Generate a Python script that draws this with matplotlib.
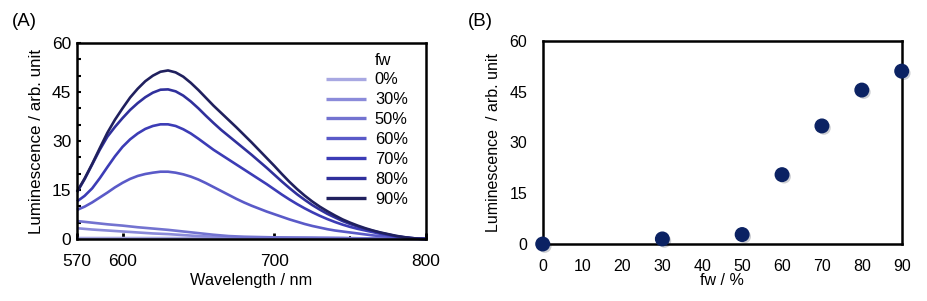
import matplotlib
matplotlib.use("Agg")
import matplotlib.pyplot as plt
from matplotlib.ticker import MultipleLocator, FixedLocator
from matplotlib import patheffects as pe

plt.rcParams['font.family'] = ['Liberation Sans', 'DejaVu Sans']

# ---- data ----
wavelength = [570, 575, 580, 585, 590, 595, 600, 605, 610, 615, 620, 625,
              630, 635, 640, 645, 650, 655, 660, 665, 670, 675, 680, 685,
              690, 695, 700, 705, 710, 715, 720, 725, 730, 735, 740, 745,
              750, 755, 760, 765, 770, 775, 780, 785, 790, 795, 800]
fw_labels = ['0%', '30%', '50%', '60%', '70%', '80%', '90%']
spec_0 = [0.3, 0.3, 0.3, 0.3, 0.3, 0.3, 0.3, 0.3, 0.3, 0.3, 0.3, 0.3,
          0.3, 0.3, 0.3, 0.3, 0.3, 0.3, 0.3, 0.3, 0.3, 0.3, 0.3, 0.3,
          0.3, 0.3, 0.3, 0.3, 0.3, 0.3, 0.3, 0.3, 0.3, 0.3, 0.25, 0.25,
          0.2, 0.2, 0.2, 0.15, 0.15, 0.1, 0.1, 0.05, 0.05, 0.0, 0.0]
spec_30 = [3.3, 3.1, 2.9, 2.75, 2.6, 2.45, 2.3, 2.15, 2.0, 1.85, 1.7, 1.6,
           1.5, 1.35, 1.2, 1.05, 0.9, 0.8, 0.7, 0.6, 0.5, 0.48, 0.45, 0.42,
           0.4, 0.4, 0.4, 0.38, 0.35, 0.35, 0.35, 0.32, 0.3, 0.3, 0.3, 0.28,
           0.25, 0.22, 0.2, 0.18, 0.15, 0.12, 0.1, 0.08, 0.05, 0.02, 0.0]
spec_50 = [5.5, 5.25, 5.0, 4.75, 4.5, 4.3, 4.1, 3.85, 3.6, 3.4, 3.2, 3.0,
           2.8, 2.55, 2.3, 2.05, 1.8, 1.55, 1.3, 1.1, 0.9, 0.8, 0.7, 0.65,
           0.6, 0.55, 0.5, 0.48, 0.45, 0.42, 0.4, 0.38, 0.35, 0.32, 0.3, 0.28,
           0.25, 0.22, 0.2, 0.18, 0.15, 0.12, 0.1, 0.08, 0.05, 0.02, 0.0]
spec_60 = [8.9, 9.9, 11.2, 12.7, 14.2, 15.8, 17.2, 18.4, 19.3, 19.9, 20.3, 20.6,
           20.6, 20.3, 19.8, 19.1, 18.2, 17.1, 15.9, 14.7, 13.5, 12.3, 11.2, 10.2,
           9.3, 8.4, 7.6, 6.8, 6.0, 5.3, 4.6, 4.0, 3.5, 3.0, 2.6, 2.3,
           2.0, 1.7, 1.4, 1.1, 0.9, 0.7, 0.5, 0.3, 0.2, 0.1, 0.0]
spec_70 = [11.5, 13.2, 15.5, 18.6, 22.0, 25.3, 28.2, 30.5, 32.3, 33.7, 34.6, 35.1,
           35.1, 34.6, 33.6, 32.3, 30.7, 29.0, 27.3, 25.8, 24.3, 22.8, 21.3, 19.8,
           18.3, 16.8, 15.2, 13.6, 12.1, 10.7, 9.4, 8.2, 7.1, 6.1, 5.2, 4.4,
           3.7, 3.1, 2.6, 2.1, 1.6, 1.2, 0.8, 0.5, 0.3, 0.1, 0.0]
spec_80 = [14.3, 18.3, 22.8, 27.3, 31.3, 34.3, 37.0, 39.5, 41.6, 43.4, 44.8, 45.7,
           45.8, 45.2, 43.9, 42.1, 40.0, 37.7, 35.5, 33.4, 31.5, 29.6, 27.7, 25.8,
           23.8, 21.8, 19.7, 17.6, 15.6, 13.7, 12.0, 10.4, 9.0, 7.7, 6.6, 5.5,
           4.6, 3.8, 3.1, 2.5, 1.9, 1.4, 0.9, 0.6, 0.3, 0.1, 0.0]
spec_90 = [14.5, 18.5, 23.0, 27.8, 32.5, 36.5, 40.0, 43.3, 46.0, 48.3, 50.0, 51.2,
           51.6, 51.0, 49.7, 47.8, 45.6, 43.2, 40.8, 38.6, 36.4, 34.2, 31.9, 29.6,
           27.2, 24.8, 22.4, 19.9, 17.5, 15.3, 13.3, 11.5, 9.9, 8.5, 7.2, 6.0,
           5.0, 4.1, 3.3, 2.6, 2.0, 1.5, 1.0, 0.6, 0.3, 0.1, 0.0]
spectra = [spec_0, spec_30, spec_50, spec_60, spec_70, spec_80, spec_90]
colors = ['#a8a8e2', '#8b8bda', '#7373d0', '#5a5ac8', '#3c3cb6', '#30309c', '#20205e']

fw_values = [0, 30, 50, 60, 70, 80, 90]
intensity = [0.0, 1.5, 2.8, 20.5, 34.9, 45.5, 51.1]

xticks_a = [570, 600, 700, 800]
yticks = [0, 15, 30, 45, 60]
xticks_b = [0, 10, 20, 30, 40, 50, 60, 70, 80, 90]

W, H = 927, 301
fig = plt.figure(figsize=(W / 100, H / 100), dpi=100)

# ---- panel A ----
axA = fig.add_axes([77 / W, 1 - 239 / H, 349 / W, 196 / H])
for spec, c, lab in zip(spectra, colors, fw_labels):
    axA.plot(wavelength, spec, color=c, lw=1.9, label=lab, clip_on=False,
             solid_capstyle='butt', solid_joinstyle='round')
axA.set_xlim(570, 800)
axA.set_ylim(0, 60)
axA.set_xticks(xticks_a)
axA.xaxis.set_minor_locator(FixedLocator([650, 750]))
axA.set_yticks(yticks)
axA.yaxis.set_minor_locator(MultipleLocator(5))
axA.tick_params(axis='both', which='both', direction='in', top=False, right=False)
axA.tick_params(axis='x', which='major', length=4, width=2, labelsize=12.5, pad=11)
axA.tick_params(axis='x', which='minor', length=2, width=1.2)
axA.tick_params(axis='y', which='major', length=3, width=1.5, labelsize=12.5, pad=4)
axA.tick_params(axis='y', which='minor', length=3, width=1.5)
for s in axA.spines.values():
    s.set_linewidth(1.8)
axA.set_xlabel('Wavelength / nm', fontsize=11.8, labelpad=3)
axA.set_ylabel('Luminescence / arb. unit', fontsize=12.2, labelpad=6)
leg = axA.legend(loc='upper left', bbox_to_anchor=(0.713, 0.85), frameon=False,
                 fontsize=11.8, handlelength=2.44, handletextpad=0.55,
                 labelspacing=0.3, borderpad=0, borderaxespad=0)
for l in leg.get_lines():
    l.set_linewidth(2.4)
axA.text(0.854, 0.91, 'fw', transform=axA.transAxes, fontsize=11.8,
         ha='left', va='center')
fig.text(12 / W, 1 - 22 / H, '(A)', fontsize=13.5, ha='left', va='center')

# ---- panel B ----
axB = fig.add_axes([542.7 / W, 1 - 244 / H, 359 / W, 203 / H])
axB.scatter(fw_values, intensity, s=95, color='#0b2263', zorder=3, clip_on=False,
            path_effects=[pe.SimplePatchShadow(offset=(1.5, -1.5), alpha=0.2),
                          pe.Normal()])
axB.set_xlim(0, 90)
axB.set_ylim(0, 60)
axB.set_xticks(xticks_b)
axB.set_yticks(yticks)
axB.tick_params(axis='both', length=0, labelsize=11.5)
axB.tick_params(axis='x', pad=11)
axB.tick_params(axis='y', pad=11)
for s in axB.spines.values():
    s.set_linewidth(1.8)
axB.set_xlabel('fw / %', fontsize=11.5, labelpad=-1)
axB.set_ylabel('Luminescence  / arb. unit', fontsize=11.5, labelpad=6)
fig.text(468 / W, 1 - 22 / H, '(B)', fontsize=13.5, ha='left', va='center')

fig.savefig('out.png', dpi=100)
